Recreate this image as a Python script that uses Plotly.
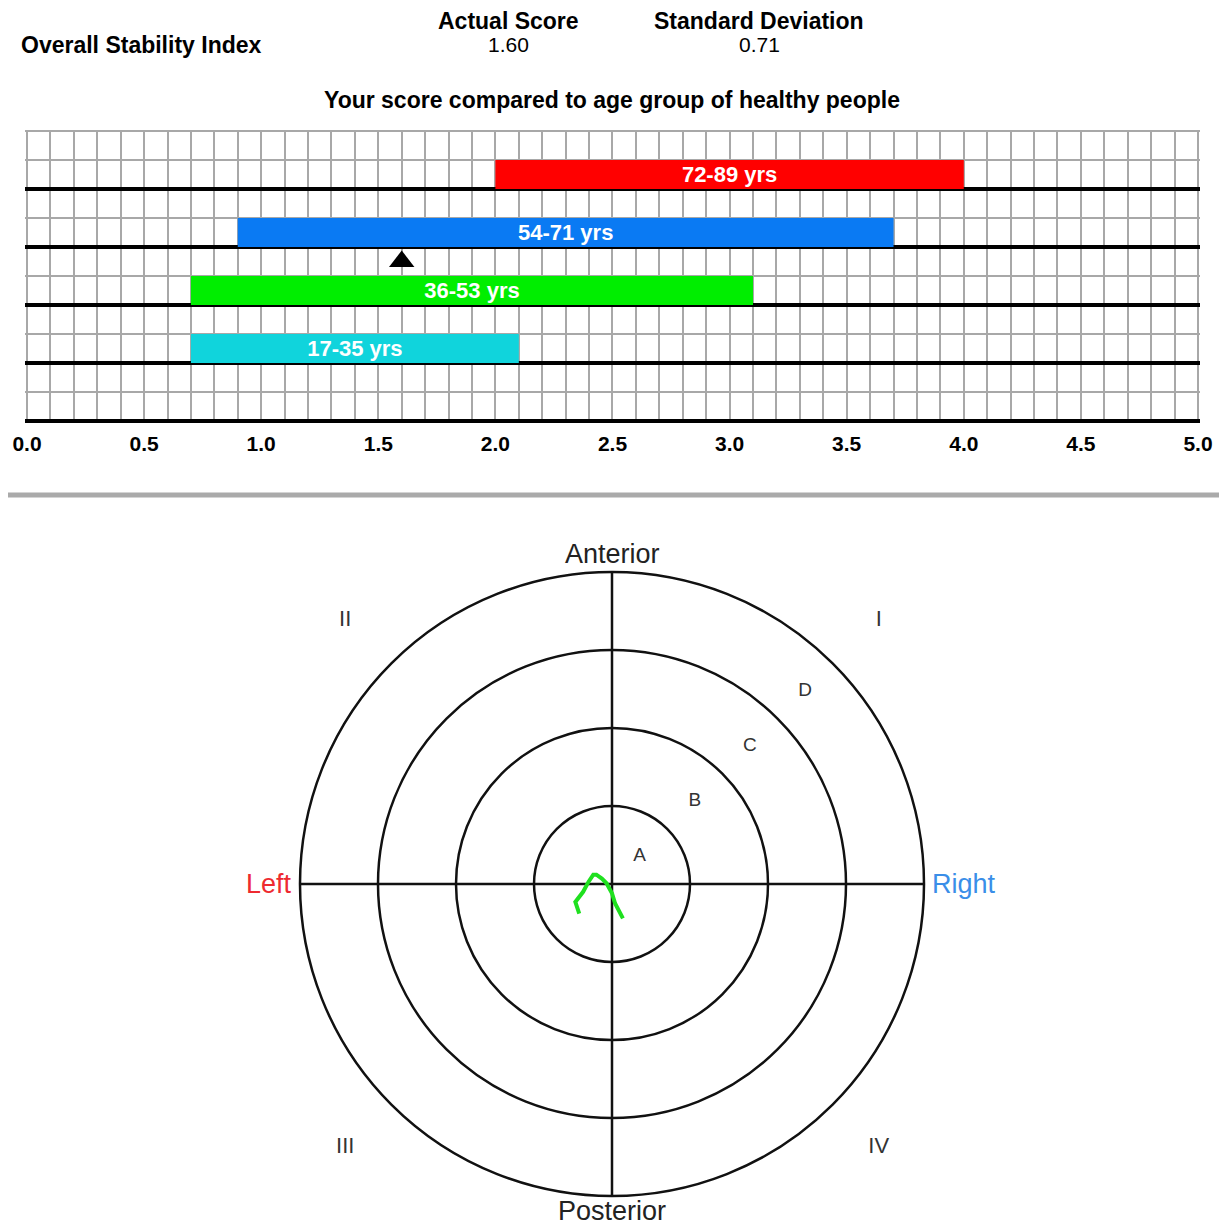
import plotly.graph_objects as go

W, H = 1227, 1225

# ---------------- data ----------------
age_groups = ["72-89 yrs", "54-71 yrs", "36-53 yrs", "17-35 yrs"]
range_low = [2.0, 0.9, 0.7, 0.7]
range_high = [4.0, 3.7, 3.1, 2.1]
row_center = [8.5, 6.5, 4.5, 2.5]
bar_colors = ["#ff0000", "#0a7af3", "#00ee00", "#10d4dc"]

actual_score = 1.60
standard_deviation = 0.71

x_ticks = [0.0, 0.5, 1.0, 1.5, 2.0, 2.5, 3.0, 3.5, 4.0, 4.5, 5.0]

ring_radii = [1, 2, 3, 4]
zone_labels = ["A", "B", "C", "D"]
zone_r = [0.5, 1.5, 2.5, 3.5]

quadrant_labels = ["I", "II", "III", "IV"]
quadrant_x = [3.42, -3.42, -3.42, 3.42]
quadrant_y = [3.38, 3.38, -3.38, -3.38]

trace_x = [0.14, 0.08, 0.04, 0.00, -0.07, -0.13, -0.20, -0.24, -0.30, -0.37, -0.47, -0.42]
trace_y = [-0.44, -0.33, -0.25, -0.12, 0.01, 0.07, 0.12, 0.12, 0.03, -0.10, -0.23, -0.38]


def px(x):
    return x / W


def py(y):
    return 1 - y / H


FONT = "Liberation Sans, Arial, sans-serif"
fig = go.Figure()

# ---------------- top: range bars ----------------
for name, lo, hi, yc, col in zip(age_groups, range_low, range_high, row_center, bar_colors):
    fig.add_trace(go.Bar(
        y=[yc], x=[hi - lo], base=[lo], orientation="h", width=1,
        marker=dict(color=col, line=dict(width=0)),
        text=[name], textposition="inside", insidetextanchor="middle",
        textangle=0, constraintext="none",
        insidetextfont=dict(color="white", size=22, family=FONT, weight="bold"),
        hoverinfo="skip", showlegend=False, xaxis="x", yaxis="y",
    ))

fig.add_trace(go.Scatter(
    x=[actual_score], y=[5.5], mode="markers",
    marker=dict(symbol="triangle-up", size=22, color="black"),
    showlegend=False, hoverinfo="skip", xaxis="x", yaxis="y",
))

# ---------------- bottom: target ----------------
fig.add_trace(go.Scatter(
    x=trace_x, y=trace_y, mode="lines",
    line=dict(color="#1fe01f", width=4),
    showlegend=False, hoverinfo="skip", xaxis="x2", yaxis="y2",
))

fig.add_trace(go.Scatter(
    x=[r * 0.7071 for r in zone_r], y=[r * 0.7071 for r in zone_r],
    mode="text", text=zone_labels,
    textfont=dict(size=19, color="#333333", family=FONT),
    showlegend=False, hoverinfo="skip", xaxis="x2", yaxis="y2",
))

fig.add_trace(go.Scatter(
    x=quadrant_x, y=quadrant_y, mode="text", text=quadrant_labels,
    textfont=dict(size=22, color="#333333", family=FONT),
    showlegend=False, hoverinfo="skip", xaxis="x2", yaxis="y2",
))

shapes = []
for r in ring_radii:
    shapes.append(dict(type="circle", xref="x2", yref="y2", x0=-r, x1=r, y0=-r, y1=r,
                       line=dict(color="#111111", width=2.5), layer="below"))
R = max(ring_radii)
shapes.append(dict(type="line", xref="x2", yref="y2", x0=-R, x1=R, y0=0, y1=0,
                   line=dict(color="#111111", width=2.5), layer="below"))
shapes.append(dict(type="line", xref="x2", yref="y2", x0=0, x1=0, y0=-R, y1=R,
                   line=dict(color="#111111", width=2.5), layer="below"))
# separator
shapes.append(dict(type="line", xref="paper", yref="paper", x0=px(8), x1=px(1219),
                   y0=py(495), y1=py(495), line=dict(color="#aaaaaa", width=5)))

annotations = []


def ann(text, x, y, size, bold=False, color="black", xanchor="center", xref="paper", yref="paper"):
    annotations.append(dict(
        text=text, x=x, y=y, xref=xref, yref=yref, showarrow=False,
        xanchor=xanchor, yanchor="middle",
        font=dict(size=size, color=color, family=FONT, weight="bold" if bold else "normal"),
    ))


ann("Overall Stability Index", px(19), py(45), 23, bold=True, xanchor="left")
ann("Actual Score", px(508), py(21), 23, bold=True)
ann(f"{actual_score:.2f}", px(508), py(45), 21)
ann("Standard Deviation", px(759), py(21), 23, bold=True)
ann(f"{standard_deviation:.2f}", px(759), py(45), 21)
ann("Your score compared to age group of healthy people", px(612), py(100), 23, bold=True)

ann("Anterior", px(612), py(554), 27, color="#222222")
ann("Posterior", px(612), py(1211), 27, color="#222222")
ann("Left", -4.08, 0, 27, color="#ee2a30", xanchor="right", xref="x2", yref="y2")
ann("Right", 4.08, 0, 27, color="#3a8ee8", xanchor="left", xref="x2", yref="y2")

SC = 78  # pixels per target unit
XPU, YPU = 234.2, 29.0  # pixels per unit in the range chart
XP, YP = 0.01, 0.05     # small padding so edge grid lines are drawn
fig.update_layout(
    width=W, height=H, margin=dict(l=0, r=0, t=0, b=0, autoexpand=False),
    paper_bgcolor="white", plot_bgcolor="white",
    barmode="overlay", showlegend=False,
    shapes=shapes, annotations=annotations,
    xaxis=dict(
        domain=[px(27 - XP * XPU), px(1198 + XP * XPU)], range=[-XP, 5 + XP],
        tickmode="array", tickvals=x_ticks, ticktext=[f"{v:.1f}" for v in x_ticks],
        showgrid=True, gridcolor="#a8a8a8", gridwidth=2,
        minor=dict(dtick=0.1, tick0=0, showgrid=True, gridcolor="#a8a8a8", gridwidth=2),
        zeroline=False, showline=False, ticks="", automargin=False,
        tickfont=dict(size=21, color="black", family=FONT, weight="bold"),
        ticklabelstandoff=7, fixedrange=True,
    ),
    yaxis=dict(
        domain=[py(421 + YP * YPU), py(131 - YP * YPU)], range=[-YP, 10 + YP],
        tickmode="array", tickvals=[0, 2, 4, 6, 8],
        showgrid=True, gridcolor="black", gridwidth=3.5,
        minor=dict(tickmode="array", tickvals=[1, 3, 5, 7, 9, 10], showgrid=True,
                   gridcolor="#a8a8a8", gridwidth=2),
        showticklabels=False, zeroline=False, showline=False, ticks="",
        automargin=False, fixedrange=True,
    ),
    xaxis2=dict(domain=[px(612 - 4.5 * SC), px(612 + 4.5 * SC)], range=[-4.5, 4.5],
                visible=False, fixedrange=True, automargin=False),
    yaxis2=dict(domain=[py(884 + 4.2 * SC), py(884 - 4.2 * SC)], range=[-4.2, 4.2],
                visible=False, fixedrange=True, automargin=False),
)

fig.write_html(
    "out.html",
    config={"responsive": False, "displayModeBar": False},
    post_script="document.body.style.margin='0';document.body.style.overflow='hidden';",
)
